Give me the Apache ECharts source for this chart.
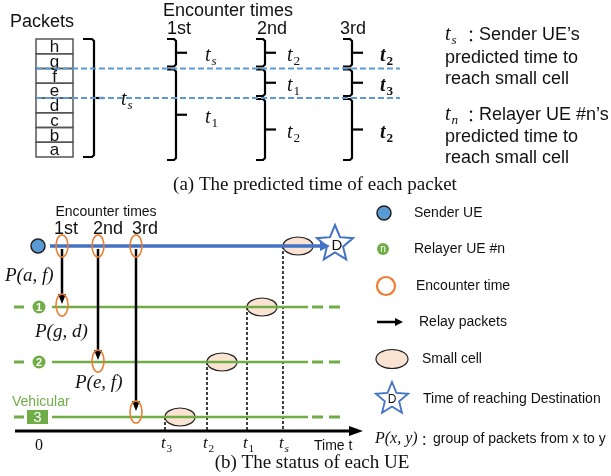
<!DOCTYPE html>
<html><head><meta charset="utf-8">
<script src="https://cdn.jsdelivr.net/npm/echarts@6/dist/echarts.min.js"></script>
<style>html,body{margin:0;padding:0;background:#fff}#main{width:611px;height:476px}</style>
</head><body><div id="main"></div>
<script>
// ---------------- data ----------------
const packets = ['h', 'g', 'f', 'e', 'd', 'c', 'b', 'a'];
const encounterLabels = ['1st', '2nd', '3rd'];
// predicted-time groups at each encounter: [first packet, last packet, subscript of t]
const predictedGroups1 = [['h', 'g', 's'], ['f', 'a', '1']];
const predictedGroups2 = [['h', 'g', '2'], ['f', 'e', '1'], ['d', 'a', '2']];
const predictedGroups3 = [['h', 'g', '2'], ['f', 'e', '3'], ['d', 'a', '2']];
const splitAfter = ['g', 'e'];
const relayerLabels = ['1', '2', '3'];
const encounterTimes = [23, 59, 97];            // 1st, 2nd, 3rd encounter
const arrivalTimes = [244, 208, 168, 126];      // sender t_s, relayer t_1, t_2, t_3
const tickTimes = [0, 126, 168, 208, 244];
const tickLabels = [['0', ''], ['t', '3'], ['t', '2'], ['t', '1'], ['t', 's']];
const relayGroups = ['P(a, f)', 'P(g, d)', 'P(e, f)'];
const legendA = [
  ['s', 'Sender UE\u2019s', 'predicted time to', 'reach small cell'],
  ['n', 'Relayer UE #n\u2019s', 'predicted time to', 'reach small cell']
];
const legendB = ['Sender UE', 'Relayer UE #n', 'Encounter time', 'Relay packets', 'Small cell', 'Time of reaching Destination'];
const legendPxy = 'group of packets from x to y';

// ---------------- layout / style ----------------
const SANS = '"Liberation Sans", Arial, sans-serif';
const SERIF = '"Liberation Serif", "Times New Roman", serif';
const C = { blue: '#4472c4', lblue: '#5b9bd5', green: '#70ad47', orange: '#ed7d31', cell: '#fbe3d3', ink: '#111' };
const L = {
  pk: { x0: 36, x1: 73, top: 39, rowH: 14.75 },
  bigBr: { x: 94, hook: 11, nub: 10 },
  tsLbl: [121, 100],
  encX: [176, 265, 352], encLblX: [205, 287, 380], encHdrX: [179, 272, 353], encHdrY: 29, encTitle: [228, 11],
  dash: [36, 400],
  legA: { x: 445, ys: [35, 58, 79, 115, 137, 158] },
  capA: [315, 185],
  ueY: [246, 307, 362, 417],
  axisY: 431, tickY: 446,
  encB: { title: [106, 212], hx: [66, 108, 145], hy: 229 },
  pLbl: [[5, 276], [35, 332], [75, 383]],
  encDy: [-2, -1, -5],
  legB: { ix: [384, 383, 386, 390, 392, 392], tx: [414, 414, 416, 419, 422, 423], ys: [213, 249, 286, 322, 359, 399] },
  capB: [312, 463]
};

function T(p, text, o) {
  o = o || {};
  const al = o.align || 'left';
  return { type: 'text', x: p[0], y: p[1], silent: true, style: {
    text: text, fill: o.fill || C.ink, fontSize: o.size || 18, fontFamily: o.family || SANS,
    fontStyle: o.style || 'normal', fontWeight: o.weight || 'normal',
    align: al, textAlign: al, verticalAlign: 'middle', textVerticalAlign: 'middle' } };
}
function mathT(kids, p, base, sub, size, bold) {
  kids.push(T(p, base, { family: SERIF, style: 'italic', size: size, weight: bold ? 'bold' : 'normal' }));
  if (sub) {
    const isNum = /\d/.test(sub);
    kids.push(T([p[0] + size * 0.33, p[1] + size * 0.3], sub,
      { family: SERIF, style: isNum ? 'normal' : 'italic', size: size * 0.66, weight: bold ? 'bold' : 'normal' }));
  }
}
function line(a, b, color, w, dash) {
  return { type: 'line', silent: true, shape: { x1: a[0], y1: a[1], x2: b[0], y2: b[1] },
    style: { stroke: color, lineWidth: w, lineDash: dash || null, fill: null } };
}
function starPts(cx, cy, R, r) {
  const pts = [];
  for (let k = 0; k < 10; k++) {
    const ang = (-90 + k * 36) * Math.PI / 180, rad = k % 2 ? r : R;
    pts.push([cx + rad * Math.cos(ang), cy + rad * Math.sin(ang)]);
  }
  return pts;
}

// ---------------- layer 1: part (a), timelines, legend, captions ----------------
function renderLayout(params, api) {
  const c = (x, y) => api.coord([x, y]);
  const k = [];
  const pk = L.pk;
  const rowY = i => pk.top + i * pk.rowH;
  // packets
  k.push(T(c(10, 22), 'Packets', { size: 18 }));
  packets.forEach((p, i) => {
    const a = c(pk.x0, rowY(i)), b = c(pk.x1, rowY(i + 1));
    k.push({ type: 'rect', silent: true, shape: { x: a[0], y: a[1], width: b[0] - a[0], height: b[1] - a[1] },
      style: { fill: null, stroke: '#555', lineWidth: 1.5 } });
  });
  packets.forEach((p, i) => k.push(T(c((pk.x0 + pk.x1) / 2, rowY(i) + pk.rowH / 2 + 1), p, { size: 17, align: 'center' })));
  // bracket helper
  const bracket = (x, y0, y1, hook, nub) => {
    const pts = [[x - hook, y0], [x - 2, y0], [x, y0 + 2], [x, y1 - 2], [x - 2, y1], [x - hook, y1]].map(q => c(q[0], q[1]));
    k.push({ type: 'polyline', silent: true, shape: { points: pts }, style: { stroke: '#000', lineWidth: 2.2, fill: null } });
    const my = (y0 + y1) / 2;
    k.push(line(c(x, my), c(x + nub, my), '#000', 2.2));
    return my;
  };
  const bb = L.bigBr;
  bracket(bb.x, rowY(0), rowY(packets.length), bb.hook, bb.nub);
  mathT(k, c(L.tsLbl[0], L.tsLbl[1]), 't', 's', 20, false);
  // encounter headers
  k.push(T(c(L.encTitle[0], L.encTitle[1]), 'Encounter times', { size: 18, align: 'center' }));
  encounterLabels.forEach((s, i) => k.push(T(c(L.encHdrX[i], L.encHdrY), s, { size: 18, align: 'center' })));
  [predictedGroups1, predictedGroups2, predictedGroups3].forEach((groups, col) => {
    groups.forEach(g => {
      const i0 = packets.indexOf(g[0]), i1 = packets.indexOf(g[1]) + 1;
      const y0 = rowY(i0) + (i0 > 0 ? 1 : 0);
      const y1 = rowY(i1) + (i1 < packets.length ? -2 : 3);
      const my = bracket(L.encX[col], y0, y1, 9, 11);
      mathT(k, c(L.encLblX[col], my + 3), 't', g[2], 20, col === 2);
    });
  });
  // dashed split lines
  splitAfter.forEach(p => {
    const y = rowY(packets.indexOf(p) + 1);
    k.push(line(c(L.dash[0], y), c(L.dash[1], y), C.lblue, 2, [6, 3]));
  });
  // legend (a)
  legendA.forEach((item, j) => {
    const ys = L.legA.ys.slice(j * 3, j * 3 + 3);
    mathT(k, c(L.legA.x, ys[0]), 't', item[0], 20, false);
    k.push(T(c(L.legA.x + 22, ys[0]), '\uFF1A', { size: 16, family: '"Noto Sans CJK SC", sans-serif' }));
    k.push(T(c(L.legA.x + 34, ys[0]), item[1], { size: 18 }));
    k.push(T(c(L.legA.x, ys[1]), item[2], { size: 18 }));
    k.push(T(c(L.legA.x, ys[2]), item[3], { size: 18 }));
  });
  k.push(T(c(L.capA[0], L.capA[1]), '(a) The predicted time of each packet', { size: 19, family: SERIF, align: 'center' }));

  // ---- part (b) timelines ----
  k.push(T(c(L.encB.title[0], L.encB.title[1]), 'Encounter times', { size: 14, align: 'center' }));
  encounterLabels.forEach((s, i) => k.push(T(c(L.encB.hx[i], L.encB.hy), s, { size: 18, align: 'center' })));
  const sy = L.ueY[0];
  // sender line + star
  k.push(line(c(50, sy), c(325, sy), C.blue, 3.5));
  k.push({ type: 'polygon', silent: true, shape: { points: [c(320, sy - 5), c(330, sy), c(320, sy + 5)] }, style: { fill: C.blue } });
  k.push({ type: 'polygon', silent: true, shape: { points: starPts(335, 244, 19, 8.5).map(q => c(q[0], q[1])) },
    style: { fill: null, stroke: C.blue, lineWidth: 2 } });
  k.push(T(c(337, 246), 'D', { size: 15, align: 'center' }));
  const sp = c(38, sy);
  k.push({ type: 'circle', silent: true, shape: { cx: sp[0], cy: sp[1], r: 7 }, style: { fill: C.lblue, stroke: '#222', lineWidth: 1.5 } });
  // relayer lines
  relayerLabels.forEach((lab, i) => {
    const y = L.ueY[i + 1];
    k.push(line(c(14, y), c(24, y), C.green, 3));
    k.push(line(c(52, y), c(308, y), C.green, 2.5));
    k.push(line(c(312, y), c(323, y), C.green, 3));
    k.push(line(c(329, y), c(340, y), C.green, 3));
    if (i < 2) {
      const p = c(39, y);
      k.push({ type: 'circle', silent: true, shape: { cx: p[0], cy: p[1], r: 6.5 }, style: { fill: C.green } });
      k.push(T(c(39, y + 0.5), lab, { size: 11, weight: 'bold', fill: '#fff', align: 'center' }));
    } else {
      const a = c(27, y - 7), b = c(48, y + 7);
      k.push({ type: 'rect', silent: true, shape: { x: a[0], y: a[1], width: b[0] - a[0], height: b[1] - a[1] }, style: { fill: C.green } });
      k.push(T(c(37.5, y + 0.5), lab, { size: 15, fill: '#fff', align: 'center' }));
      k.push(T(c(12, y - 15), 'Vehicular', { size: 14, fill: C.green }));
    }
  });
  // time axis
  k.push(line(c(15, L.axisY), c(352, L.axisY), '#000', 3));
  k.push({ type: 'polygon', silent: true, shape: { points: [c(349, L.axisY - 5), c(363, L.axisY), c(349, L.axisY + 5)] }, style: { fill: '#000' } });
  k.push(T(c(314, L.tickY), 'Time t', { size: 14 }));
  relayGroups.forEach((s, i) => k.push(T(c(L.pLbl[i][0], L.pLbl[i][1]), s, { size: 19, family: SERIF, style: 'italic' })));
  // legend (b)
  const lb = L.legB;
  let p = c(lb.ix[0], lb.ys[0]);
  k.push({ type: 'circle', silent: true, shape: { cx: p[0], cy: p[1], r: 7 }, style: { fill: C.lblue, stroke: '#222', lineWidth: 1.5 } });
  p = c(lb.ix[1], lb.ys[1]);
  k.push({ type: 'circle', silent: true, shape: { cx: p[0], cy: p[1], r: 6 }, style: { fill: C.green } });
  k.push(T(c(lb.ix[1], lb.ys[1] + 0.5), 'n', { size: 10, fill: '#fff', align: 'center' }));
  p = c(lb.ix[2], lb.ys[2]);
  k.push({ type: 'circle', silent: true, shape: { cx: p[0], cy: p[1], r: 9 }, style: { fill: null, stroke: C.orange, lineWidth: 2.2 } });
  k.push(line(c(377, lb.ys[3]), c(396, lb.ys[3]), '#000', 2.5));
  k.push({ type: 'polygon', silent: true, shape: { points: [c(395, lb.ys[3] - 4), c(403, lb.ys[3]), c(395, lb.ys[3] + 4)] }, style: { fill: '#000' } });
  p = c(lb.ix[4], lb.ys[4]);
  k.push({ type: 'ellipse', silent: true, shape: { cx: p[0], cy: p[1], rx: 16, ry: 9.5 }, style: { fill: C.cell, stroke: '#222', lineWidth: 1.2 } });
  k.push({ type: 'polygon', silent: true, shape: { points: starPts(lb.ix[5], lb.ys[5], 17, 7.5).map(q => c(q[0], q[1])) },
    style: { fill: null, stroke: C.blue, lineWidth: 1.8 } });
  k.push(T(c(lb.ix[5], lb.ys[5] + 1), 'D', { size: 12, align: 'center' }));
  legendB.forEach((s, i) => k.push(T(c(lb.tx[i], lb.ys[i]), s, { size: 14 })));
  k.push(T(c(375, 439), 'P(x, y)', { size: 16, family: SERIF, style: 'italic' }));
  k.push(T(c(421, 439), '\uFF1A', { size: 13, family: '"Noto Sans CJK SC", sans-serif' }));
  k.push(T(c(433, 439), legendPxy, { size: 14 }));
  k.push(T(c(L.capB[0], L.capB[1]), '(b) The status of each UE', { size: 19, family: SERIF, align: 'center' }));
  return { type: 'group', children: k };
}

// ---------------- layer 0: small cells + arrival guides (time axis) ----------------
function renderCells(params, api) {
  const c = (t, y) => api.coord([t, y]);
  const k = [];
  arrivalTimes.forEach((t, i) => {
    const y = L.ueY[i];
    k.push(line(c(t, y), c(t, L.axisY), '#000', 1.5, [3, 2]));
    const p = c(t, y), q = c(t + 30, y);
    k.push({ type: 'ellipse', silent: true, shape: { cx: (p[0] + q[0]) / 2, cy: p[1], rx: (q[0] - p[0]) / 2, ry: 9 },
      style: { fill: C.cell, stroke: '#222', lineWidth: 1.2 } });
  });
  return { type: 'group', children: k };
}

// ---------------- layer 2: encounters, relay arrows, ticks (time axis) ----------------
function renderEvents(params, api) {
  const c = (t, y) => api.coord([t, y]);
  const k = [];
  const sy = L.ueY[0];
  encounterTimes.forEach((t, i) => {
    const ty = L.ueY[i + 1];
    const a = c(t, sy + 3), b = c(t, ty - 10);
    k.push(line(a, b, '#000', 2.5));
    const tip = c(t, ty + L.encDy[i] - 1);
    k.push({ type: 'polygon', silent: true, shape: { points: [[tip[0] - 4, tip[1] - 10], [tip[0] + 4, tip[1] - 10], tip] }, style: { fill: '#000' } });
    [[sy, 0], [ty, L.encDy[i]]].forEach(yy => {
      const p = c(t, yy[0] + yy[1]);
      k.push({ type: 'ellipse', silent: true, shape: { cx: p[0], cy: p[1], rx: 6, ry: 11 },
        style: { fill: null, stroke: C.orange, lineWidth: 1.6 } });
    });
  });
  tickTimes.forEach((t, i) => {
    const lab = tickLabels[i];
    if (!lab[1]) k.push(T(c(t, L.tickY), lab[0], { size: 16, family: SERIF, align: 'center' }));
    else mathT(k, c(t - 4, L.tickY - 2), lab[0], lab[1], 17, false);
  });
  return { type: 'group', children: k };
}

const chart = echarts.init(document.getElementById('main'), null, { renderer: 'canvas' });
chart.setOption({
  animation: false,
  backgroundColor: '#fff',
  grid: { left: 0, right: 0, top: 0, bottom: 0, containLabel: false },
  xAxis: [
    { type: 'value', min: 0, max: 611, show: false, position: 'bottom' },
    { type: 'value', min: -39, max: 572, show: false, position: 'top' }
  ],
  yAxis: { type: 'value', min: 0, max: 476, inverse: true, show: false },
  series: [
    { type: 'custom', xAxisIndex: 1, yAxisIndex: 0, z: 1, data: [[0, 0]], renderItem: renderCells, silent: true },
    { type: 'custom', xAxisIndex: 0, yAxisIndex: 0, z: 2, data: [[0, 0]], renderItem: renderLayout, silent: true },
    { type: 'custom', xAxisIndex: 1, yAxisIndex: 0, z: 3, data: [[0, 0]], renderItem: renderEvents, silent: true }
  ]
});
</script>
</body></html>
